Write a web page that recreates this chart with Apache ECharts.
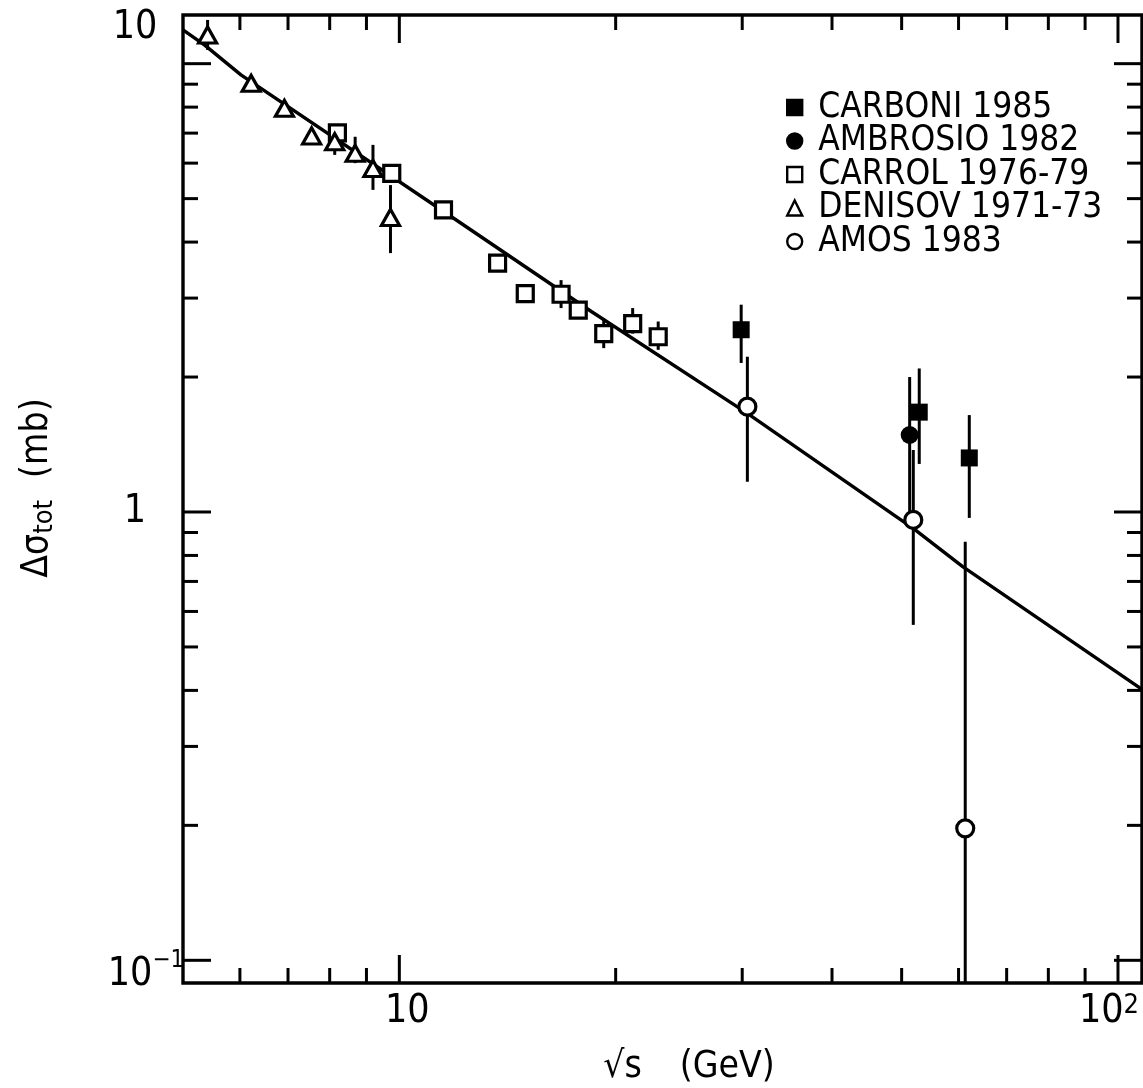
<!DOCTYPE html>
<html><head><meta charset="utf-8">
<script src="https://cdn.jsdelivr.net/npm/echarts@6/dist/echarts.min.js"></script>
<style>html,body{margin:0;padding:0;background:#fff}#c{width:1143px;height:1088px}</style>
</head><body><div id="c"></div>
<script>
const FONT = "'Liberation Sans Narrow','DejaVu Sans Condensed','Liberation Sans',sans-serif";

// ---- data ----
const carboniX  = [29.9, 52.9, 62.1];
const carboniY  = [2.55, 1.67, 1.32];
const carboniLo = [2.15, 1.28, 0.97];
const carboniHi = [2.90, 2.09, 1.645];

const ambrosioX  = [51.3];
const ambrosioY  = [1.485];
const ambrosioLo = [0.995];
const ambrosioHi = [2.00];

const carrolX  = [8.20, 9.76, 11.52, 13.70, 14.97, 16.79, 17.74, 19.25, 21.12, 22.92];
const carrolY  = [7.01, 5.69, 4.72, 3.59, 3.07, 3.06, 2.82, 2.50, 2.63, 2.46];
const carrolLo = [null, null, null, null, null, 2.85, null, 2.32, 2.50, 2.30];
const carrolHi = [null, null, null, null, null, 3.29, null, 2.68, 2.85, 2.66];

const denisovX  = [5.41, 6.22, 6.92, 7.55, 8.13, 8.68, 9.19, 9.72];
const denisovY  = [11.59, 9.04, 7.95, 6.90, 6.70, 6.31, 5.84, 4.54];
const denisovLo = [10.73, null, null, null, 6.26, 6.00, 5.23, 3.78];
const denisovHi = [12.52, null, null, null, 7.14, 6.87, 6.59, 5.36];

const amosX  = [30.5, 51.9, 61.3];
const amosY  = [1.718, 0.960, 0.197];
const amosLo = [1.168, 0.560, -0.46];
const amosHi = [2.22, 1.375, 0.858];

const fitX = [5, 5.36, 6.02, 12.0, 18.5, 30.5, 52.0, 60.8, 108];
const fitY = [11.9, 11.0, 9.44, 4.48, 2.80, 1.66, 0.917, 0.755, 0.402];

const xMinorTicks = [6, 7, 8, 9, 20, 30, 40, 50, 60, 70, 80, 90];
const xMajorTicks = [10, 100];
const yMinorTicks = [0.2, 0.3, 0.4, 0.5, 0.6, 0.7, 0.8, 0.9, 2, 3, 4, 5, 6, 7, 8, 9];
const yMajorTicks = [0.1, 1, 10];

const legendNames = ['CARBONI 1985', 'AMBROSIO 1982', 'CARROL 1976-79', 'DENISOV 1971-73', 'AMOS 1983'];

// ---- helpers ----
const near = (a, b) => Math.abs(a - b) < 1e-6 * Math.max(1, b);
const zip = (xs, ys) => xs.map((x, i) => [x, ys[i]]);
const errData = (xs, ys, lo, hi) => xs.map((x, i) => [x, ys[i], lo[i], hi[i]]).filter(d => d[2] !== null && d[3] !== null);

function errRender(params, api) {
  const cs = params.coordSys;
  const x = api.value(0), lo = api.value(2), hi = api.value(3);
  const top = api.coord([x, hi]);
  const by = lo > 0 ? api.coord([x, lo])[1] : cs.y + cs.height;
  return { type: 'line', shape: { x1: top[0], y1: top[1], x2: top[0], y2: by },
           style: { stroke: '#000', lineWidth: 3 } };
}

function tickRender(params, api) {
  const cs = params.coordSys;
  const kind = api.value(2), major = api.value(3);
  const p = api.coord([api.value(0), api.value(1)]);
  const st = { stroke: '#000', lineWidth: 3 };
  const L = major ? 28 : 15;
  if (kind === 0) {
    const b = cs.y + cs.height, t = cs.y;
    return { type: 'group', children: [
      { type: 'line', shape: { x1: p[0], y1: b, x2: p[0], y2: b - L }, style: st },
      { type: 'line', shape: { x1: p[0], y1: t, x2: p[0], y2: t + L }, style: st }
    ]};
  }
  const l = cs.x, r = cs.x + cs.width;
  return { type: 'group', children: [
    { type: 'line', shape: { x1: l, y1: p[1], x2: l + L, y2: p[1] }, style: st },
    { type: 'line', shape: { x1: r, y1: p[1], x2: r - L, y2: p[1] }, style: st }
  ]};
}

const tickData = []
  .concat(xMinorTicks.map(v => [v, 1, 0, 0]))
  .concat(xMajorTicks.map(v => [v, 1, 0, 1]))
  .concat(yMinorTicks.map(v => [10, v, 1, 0]))
  .concat(yMajorTicks.map(v => [10, v, 1, 1]));

const hollow = { color: '#fff', borderColor: '#000', borderWidth: 3.2, opacity: 1 };
const solid = { color: '#000', borderColor: '#000', borderWidth: 0, opacity: 1 };

function scatter(name, xs, ys, symbol, size, style) {
  return { name, type: 'scatter', data: zip(xs, ys), symbol, symbolSize: size,
           itemStyle: style, z: 5, silent: true, emphasis: { disabled: true } };
}
function errSeries(name, xs, ys, lo, hi) {
  return { name, type: 'custom', renderItem: errRender, data: errData(xs, ys, lo, hi),
           encode: { x: 0, y: 1 }, z: 4, silent: true };
}

const chart = echarts.init(document.getElementById('c'), null, { renderer: 'canvas' });
chart.setOption({
  animation: false,
  backgroundColor: '#fff',
  textStyle: { fontFamily: FONT, color: '#000' },
  grid: { left: 183, right: 1, top: 15, bottom: 105, show: true, borderColor: '#000', borderWidth: 3.4,
          containLabel: false, outerBoundsMode: 'none' },
  legend: {
    data: legendNames, orient: 'vertical', left: 786, top: 90, padding: 0,
    itemWidth: 15, itemHeight: 15, itemGap: -1.5,
    itemStyle: { borderWidth: 2.4, opacity: 1 },
    formatter: n => '{t|' + n + '}',
    textStyle: { fontFamily: FONT, color: '#000', fontSize: 35, lineHeight: 30,
      rich: { t: { fontFamily: FONT, color: '#000', fontSize: 35, lineHeight: 30, padding: [0, 0, 0, 11] } } },
    selectedMode: false
  },
  xAxis: {
    type: 'log', logBase: 10, min: 5, max: 108,
    axisLine: { show: false }, axisTick: { show: false }, splitLine: { show: false },
    minorTick: { show: false }, minorSplitLine: { show: false },
    axisLabel: {
      margin: 9, color: '#000', fontFamily: FONT, showMinLabel: true, showMaxLabel: true,
      formatter: v => near(v, 10) ? '{a|10}' : near(v, 100) ? '{b|10}{sup|2}' : '',
      rich: {
        a: { fontSize: 39, fontFamily: FONT, color: '#000', padding: [0, 0, 0, 16] },
        b: { fontSize: 39, fontFamily: FONT, color: '#000' },
        sup: { fontSize: 27, fontFamily: FONT, color: '#000', padding: [0, 18, 12, 0] }
      }
    },
    name: '{a|√s}{b|(GeV)}', nameLocation: 'middle', nameGap: 66,
    nameTextStyle: { padding: [0, 0, 0, 53], rich: {
      a: { fontSize: 37, fontFamily: FONT, color: '#000' },
      b: { fontSize: 37, fontFamily: FONT, color: '#000', padding: [0, 0, 0, 38] } } }
  },
  yAxis: {
    type: 'log', logBase: 10, min: 0.089, max: 12.84,
    axisLine: { show: false }, axisTick: { show: false }, splitLine: { show: false },
    minorTick: { show: false }, minorSplitLine: { show: false },
    axisLabel: {
      margin: 48, align: 'center', color: '#000', fontFamily: FONT, showMinLabel: true, showMaxLabel: true,
      formatter: v => near(v, 10) ? '{up|10}' : near(v, 1) ? '{n|1}' : near(v, 0.1) ? '{m|10}{sup|−1}' : '',
      rich: {
        up: { fontSize: 39, fontFamily: FONT, color: '#000', padding: [0, 0, 72, 0] },
        n: { fontSize: 39, fontFamily: FONT, color: '#000' },
        m: { fontSize: 39, fontFamily: FONT, color: '#000', padding: [30, 0, 0, 22] },
        sup: { fontSize: 24, fontFamily: FONT, color: '#000' }
      }
    },
    name: '{a|Δσ}{s|tot}{c|(mb)}', nameLocation: 'middle', nameRotate: 90, nameGap: 125,
    nameTextStyle: { padding: [0, 0, 0, 22], rich: {
      a: { fontSize: 37, fontFamily: FONT, color: '#000' },
      s: { fontSize: 27, fontFamily: FONT, color: '#000', padding: [14, 0, 0, 0] },
      c: { fontSize: 37, fontFamily: FONT, color: '#000', padding: [0, 0, 0, 22] } } }
  },
  series: [
    { name: 'fit', type: 'line', data: zip(fitX, fitY), symbol: 'none', smooth: false,
      lineStyle: { color: '#000', width: 3.4, opacity: 1 }, z: 2, silent: true },
    errSeries('err-carboni', carboniX, carboniY, carboniLo, carboniHi),
    errSeries('err-ambrosio', ambrosioX, ambrosioY, ambrosioLo, ambrosioHi),
    errSeries('err-carrol', carrolX, carrolY, carrolLo, carrolHi),
    errSeries('err-denisov', denisovX, denisovY, denisovLo, denisovHi),
    errSeries('err-amos', amosX, amosY, amosLo, amosHi),
    scatter(legendNames[0], carboniX, carboniY, 'rect', 17, solid),
    scatter(legendNames[1], ambrosioX, ambrosioY, 'circle', 18, solid),
    scatter(legendNames[2], carrolX, carrolY, 'rect', 16, hollow),
    scatter(legendNames[3], denisovX, denisovY, 'triangle', [18, 16], hollow),
    scatter(legendNames[4], amosX, amosY, 'circle', 17, hollow),
    { name: 'ticks', type: 'custom', renderItem: tickRender, data: tickData,
      encode: { x: 0, y: 1 }, z: 6, silent: true }
  ]
});
</script></body></html>
